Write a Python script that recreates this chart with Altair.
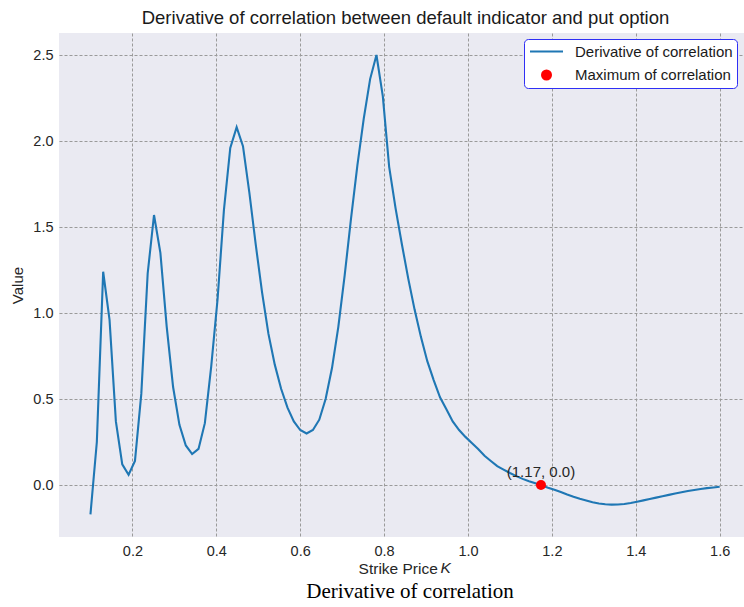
import altair as alt
import pandas as pd

# ---- data ----
strike = [
    0.1000, 0.1152, 0.1303, 0.1455, 0.1606, 0.1758, 0.1909, 0.2061, 0.2212, 0.2364,
    0.2515, 0.2667, 0.2818, 0.2970, 0.3121, 0.3273, 0.3424, 0.3576, 0.3727, 0.3879,
    0.4030, 0.4182, 0.4333, 0.4485, 0.4636, 0.4788, 0.4939, 0.5091, 0.5242, 0.5394,
    0.5545, 0.5697, 0.5848, 0.6000, 0.6152, 0.6303, 0.6455, 0.6606, 0.6758, 0.6909,
    0.7061, 0.7212, 0.7364, 0.7515, 0.7667, 0.7818, 0.7970, 0.8121, 0.8273, 0.8424,
    0.8576, 0.8727, 0.8879, 0.9030, 0.9182, 0.9333, 0.9485, 0.9636, 0.9788, 0.9939,
    1.0091, 1.0242, 1.0394, 1.0545, 1.0697, 1.0848, 1.1000, 1.1152, 1.1303, 1.1455,
    1.1606, 1.1758, 1.1909, 1.2061, 1.2212, 1.2364, 1.2515, 1.2667, 1.2818, 1.2970,
    1.3121, 1.3273, 1.3424, 1.3576, 1.3727, 1.3879, 1.4030, 1.4182, 1.4333, 1.4485,
    1.4636, 1.4788, 1.4939, 1.5091, 1.5242, 1.5394, 1.5545, 1.5697, 1.5848, 1.6000,
]
derivative = [
    -0.17, 0.25, 1.24, 0.96, 0.37, 0.12, 0.06, 0.14, 0.53, 1.23,
    1.57, 1.35, 0.92, 0.57, 0.35, 0.23, 0.18, 0.21, 0.36, 0.69,
    1.08, 1.60, 1.96, 2.08, 1.97, 1.70, 1.40, 1.12, 0.88, 0.70,
    0.56, 0.45, 0.37, 0.32, 0.30, 0.32, 0.38, 0.50, 0.68, 0.92,
    1.22, 1.55, 1.86, 2.13, 2.36, 2.50, 2.26, 1.85, 1.61, 1.40,
    1.20, 1.02, 0.86, 0.72, 0.61, 0.51, 0.44, 0.37, 0.32, 0.28,
    0.245, 0.21, 0.17, 0.14, 0.11, 0.09, 0.07, 0.052, 0.036, 0.022,
    0.010, -0.002, -0.015, -0.027, -0.040, -0.055, -0.068, -0.080, -0.090, -0.100,
    -0.107, -0.112, -0.114, -0.113, -0.110, -0.104, -0.097, -0.089, -0.081, -0.073,
    -0.065, -0.057, -0.049, -0.042, -0.035, -0.029, -0.023, -0.018, -0.014, -0.010,
]
max_k = [1.174]
max_value = [0.0]
max_label = ["(1.17, 0.0)"]
series_names = ["Derivative of correlation", "Maximum of correlation"]
series_colors = ["#1f77b4", "#ff0000"]
x_ticks = [0.2, 0.4, 0.6, 0.8, 1.0, 1.2, 1.4, 1.6]
y_ticks = [0.0, 0.5, 1.0, 1.5, 2.0, 2.5]

title_text = "Derivative of correlation between default indicator and put option"
x_title_text = "Strike Price"
x_title_symbol = "K"
y_title_text = "Value"
caption_text = "Derivative of correlation"

W, H = 685, 504
FONT = "Liberation Sans"
TXT = "#262626"

line_df = pd.DataFrame({"K": strike, "value": derivative})
max_df = pd.DataFrame({"K": max_k, "value": max_value, "label": max_label,
                       "series": series_names[1]})

xs = alt.Scale(domain=[0.025, 1.658], nice=False, zero=False)
ys = alt.Scale(domain=[-0.302, 2.628], nice=False, zero=False)

is_line = f"datum.value === '{series_names[0]}'"
legend = alt.Legend(
    title=None,
    orient="none",
    legendX=465,
    legendY=6,
    fillColor="white",
    strokeColor="#2f2ff5",
    cornerRadius=4,
    padding=4,
    labelFont=FONT,
    labelFontSize=15,
    labelColor="#1a1a1a",
    labelOffset=21,
    symbolOffset=11,
    rowPadding=6.5,
    clipHeight=17,
    symbolType=alt.ExprRef(expr=f"{is_line} ? 'stroke' : 'circle'"),
    symbolSize=alt.ExprRef(expr=f"{is_line} ? 1089 : 121"),
    symbolStrokeColor=alt.ExprRef(expr=f"{is_line} ? '#1f77b4' : 'transparent'"),
    symbolStrokeWidth=2,
    symbolOpacity=1,
)

color = alt.Color("series:N", scale=alt.Scale(domain=series_names, range=series_colors),
                  legend=legend)

x_enc = alt.X("K:Q", scale=xs, title=x_title_text,
              axis=alt.Axis(values=x_ticks, format=".1f", labelPadding=7,
                            titleX=338.7, titleY=36, titleBaseline="alphabetic",
                            titleAlign="center", titleFontSize=15.5))
y_enc = alt.Y("value:Q", scale=ys, title=y_title_text,
              axis=alt.Axis(values=y_ticks, format=".1f", labelPadding=6,
                            titleX=-42, titleBaseline="middle"))

line = alt.Chart(line_df).mark_line(strokeWidth=2.1, color=series_colors[0]).encode(
    x=x_enc, y=y_enc)

point = alt.Chart(max_df).mark_circle(size=100, opacity=1).encode(
    x=alt.X("K:Q", scale=xs), y=alt.Y("value:Q", scale=ys), color=color)

label = alt.Chart(max_df).mark_text(font=FONT, fontSize=15, color=TXT,
                                    baseline="alphabetic", align="center", dy=-8).encode(
    x=alt.X("K:Q", scale=xs), y=alt.Y("value:Q", scale=ys), text="label:N")

k_italic = alt.Chart(max_df).mark_text(font=FONT, fontSize=15.5, fontStyle="italic", color=TXT,
                                       baseline="alphabetic", align="left").encode(
    x=alt.value(381.5), y=alt.value(H + 36), text=alt.value(x_title_symbol))

caption = alt.Chart(max_df).mark_text(font="Liberation Serif", fontSize=21, color="#000000",
                                      baseline="middle", align="center").encode(
    x=alt.value(351), y=alt.value(559), text=alt.value(caption_text))

chart = alt.layer(line, point, label, k_italic, caption).properties(
    width=W, height=H,
    background="white",
    title=alt.TitleParams(title_text, font=FONT, fontSize=18.5, fontWeight="normal",
                          color="#1a1a1a", anchor="middle", offset=6, dx=4),
    padding={"left": 59, "top": 33, "right": 0, "bottom": 70},
    autosize=alt.AutoSizeParams(type="none"),
).configure_view(fill="#EAEAF2", stroke=None).configure_axis(
    domain=False, ticks=False, grid=True, gridColor="#9a9a9a", gridDash=[3, 2],
    gridWidth=1, labelFont=FONT, labelFontSize=14.5, labelColor=TXT,
    titleFont=FONT, titleFontSize=15, titleFontWeight="normal", titleColor=TXT,
)

chart.save("out.html", embed_options={"renderer": "svg", "actions": False})
